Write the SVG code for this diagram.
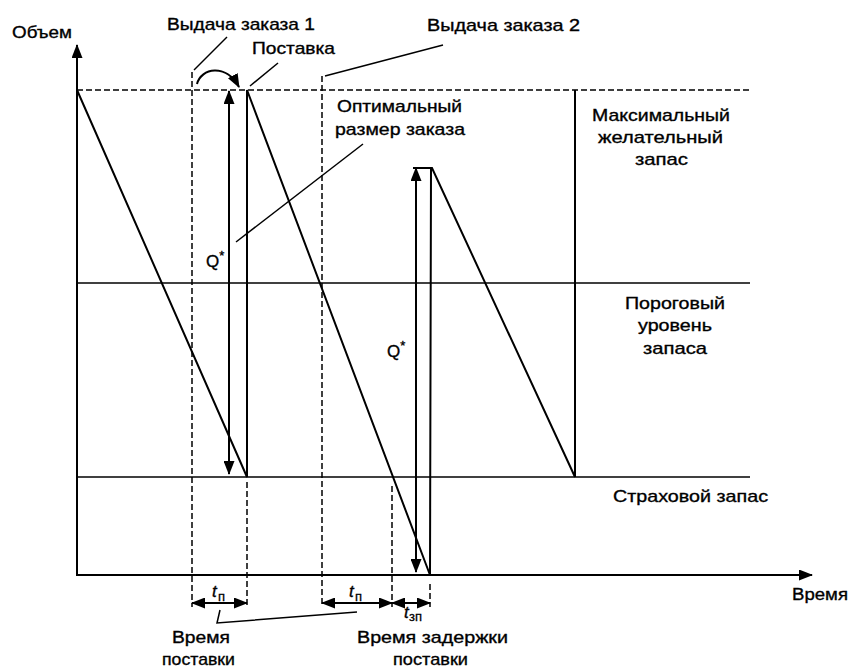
<svg xmlns="http://www.w3.org/2000/svg" width="850" height="671" viewBox="0 0 850 671">
<style>
.t{font-family:"Liberation Sans",Arial,sans-serif;font-size:17px;fill:#000;stroke:#000;stroke-width:0.35;}
.it{font-family:"Liberation Sans",Arial,sans-serif;font-style:italic;font-size:17px;fill:#000;stroke:#000;stroke-width:0.35;}
.sub{font-family:"Liberation Sans",Arial,sans-serif;font-size:13px;fill:#000;stroke:#000;stroke-width:0.3;}
.s{stroke:#000;stroke-width:2;fill:none;}
.thin{stroke:#000;stroke-width:1.5;fill:none;}
.d{stroke:#000;stroke-width:1.5;fill:none;stroke-dasharray:6,3;}
</style>
<defs>
<marker id="ah" markerUnits="userSpaceOnUse" markerWidth="14" markerHeight="11" refX="13" refY="5.5" orient="auto-start-reverse">
<path d="M0,0 L14,5.5 L0,11 z" fill="#000"/>
</marker>
</defs>
<rect width="850" height="671" fill="#fff"/>

<g id="axes">
<line class="s" x1="77" y1="575" x2="77" y2="45" marker-end="url(#ah)"/>
<line class="s" x1="76" y1="575" x2="812" y2="575" marker-end="url(#ah)"/>
</g>

<g id="levels">
<line class="d" x1="77" y1="90" x2="752" y2="90"/>
<line class="thin" x1="77" y1="283" x2="750" y2="283"/>
<line class="thin" x1="77" y1="477" x2="750" y2="477"/>
<line class="s" x1="575" y1="90" x2="575" y2="477"/>
</g>

<g id="inventory-curve">
<polyline class="s" points="77,90 247,477 247,90 430,575 431,168"/>
<polyline class="s" points="413,168 432,168 575,477"/>
</g>

<g id="guides">
<line class="d" x1="192" y1="72" x2="192" y2="607"/>
<line class="d" x1="322" y1="76" x2="322" y2="607"/>
<line class="d" x1="247" y1="482" x2="247" y2="607"/>
<line class="d" x1="392" y1="486" x2="392" y2="607"/>
<line class="d" x1="430" y1="584" x2="430" y2="607"/>
</g>

<g id="connectors">
<line class="s" x1="229" y1="91" x2="229" y2="474" marker-start="url(#ah)" marker-end="url(#ah)"/>
<line class="s" x1="416" y1="168" x2="416" y2="572" marker-start="url(#ah)" marker-end="url(#ah)"/>
<path class="s" d="M197,84 C201,68 226,63 239,87" marker-end="url(#ah)"/>
<line class="thin" x1="194" y1="70" x2="227" y2="37"/>
<line class="thin" x1="250" y1="86" x2="278" y2="63"/>
<line class="thin" x1="325" y1="76" x2="443" y2="45"/>
<line class="thin" x1="363" y1="144" x2="236" y2="242"/>
<line class="s" x1="192" y1="603" x2="247" y2="603" marker-start="url(#ah)" marker-end="url(#ah)"/>
<line class="s" x1="322" y1="603" x2="392" y2="603" marker-start="url(#ah)" marker-end="url(#ah)"/>
<line class="s" x1="392" y1="603" x2="430" y2="603" marker-start="url(#ah)" marker-end="url(#ah)"/>
<polyline class="thin" points="220,610 217,623 357,612"/>
</g>

<g id="labels">
<text class="t" x="12" y="38" font-size="15" textLength="60" lengthAdjust="spacingAndGlyphs">Объем</text>
<text class="t" x="167" y="30" textLength="148" lengthAdjust="spacingAndGlyphs">Выдача заказа 1</text>
<text class="t" x="252" y="54" textLength="83" lengthAdjust="spacingAndGlyphs">Поставка</text>
<text class="t" x="427" y="31" textLength="153" lengthAdjust="spacingAndGlyphs">Выдача заказа 2</text>
<text class="t" x="337" y="112" textLength="125" lengthAdjust="spacingAndGlyphs">Оптимальный</text>
<text class="t" x="335" y="135" textLength="130" lengthAdjust="spacingAndGlyphs">размер заказа</text>
<text class="t" x="206" y="267" font-size="18">Q<tspan font-size="13" dy="-7">*</tspan></text>
<text class="t" x="387" y="357" font-size="18">Q<tspan font-size="13" dy="-7">*</tspan></text>
<text class="t" x="592" y="121" textLength="138" lengthAdjust="spacingAndGlyphs">Максимальный</text>
<text class="t" x="598" y="143" textLength="125" lengthAdjust="spacingAndGlyphs">желательный</text>
<text class="t" x="635" y="165" textLength="53" lengthAdjust="spacingAndGlyphs">запас</text>
<text class="t" x="625" y="309" textLength="100" lengthAdjust="spacingAndGlyphs">Пороговый</text>
<text class="t" x="638" y="331" textLength="74" lengthAdjust="spacingAndGlyphs">уровень</text>
<text class="t" x="643" y="354" textLength="64" lengthAdjust="spacingAndGlyphs">запаса</text>
<text class="t" x="613" y="502" textLength="155" lengthAdjust="spacingAndGlyphs">Страховой запас</text>
<text class="t" x="792" y="600" textLength="56" lengthAdjust="spacingAndGlyphs">Время</text>
<text class="t" x="172" y="643" textLength="58" lengthAdjust="spacingAndGlyphs">Время</text>
<text class="t" x="162" y="665" textLength="73" lengthAdjust="spacingAndGlyphs">поставки</text>
<text class="t" x="357" y="643" textLength="151" lengthAdjust="spacingAndGlyphs">Время задержки</text>
<text class="t" x="393" y="665" textLength="75" lengthAdjust="spacingAndGlyphs">поставки</text>
<text class="it" x="212" y="597">t</text><text class="sub" x="218" y="601">п</text>
<text class="it" x="349" y="597">t</text><text class="sub" x="355" y="601">п</text>
<text class="it" x="404" y="618" font-size="15">t</text><text class="sub" x="409" y="621" font-size="11">зп</text>
</g>
</svg>
